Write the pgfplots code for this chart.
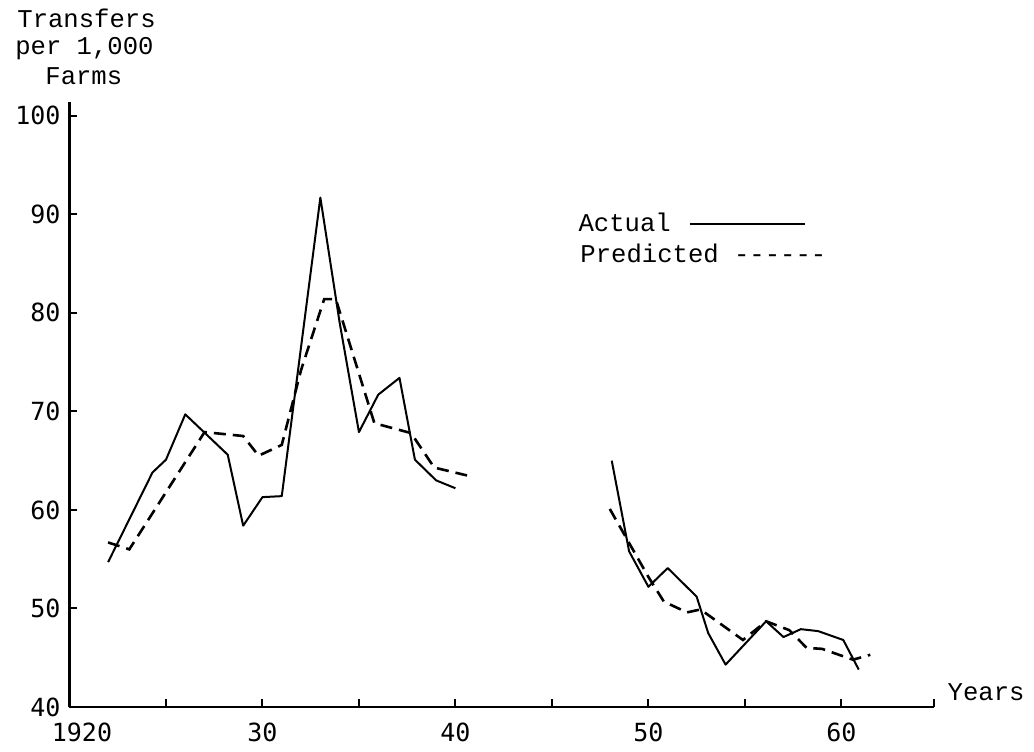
\documentclass[border=0pt]{standalone}
\usepackage{fontspec}
\setmainfont{Liberation Mono}
\setmonofont{Liberation Mono}
\newfontfamily\tickfont{DejaVu Sans Mono}
\usepackage{pgfplots}
\pgfplotsset{compat=1.18}

\begin{document}
\begin{tikzpicture}[x=1pt,y=1pt]
\useasboundingbox[fill=white] (-34.75,-22) rectangle (482.25,353.5);
\begin{axis}[
  at={(0,0)}, anchor=south west,
  scale only axis, width=432.25pt, height=302.5pt,
  xmin=1920, xmax=1964.8, ymin=40, ymax=101.4,
  axis lines=left,
  axis line style={-, line width=1.1pt, black},
  every outer x axis line/.append style={-},
  every outer y axis line/.append style={-},
  xtick={1920,1930,1940,1950,1960},
  xticklabels={\hspace*{12.5pt}1920,30,40,50,60},
  minor xtick={1925,1935,1945,1955,1964.8},
  ytick={40,50,60,70,80,90,100},
  tick align=inside,
  major tick length=4pt, minor tick length=4pt,
  tick style={line width=1pt, black},
  /pgf/number format/assume math mode=true,
  ticklabel style={font=\tickfont\fontsize{12.5}{14}\selectfont},
  xticklabel style={yshift=-4.5pt},
  yticklabel style={xshift=-1pt},
  clip=false,
]
% Actual, 1922-1940
\addplot[black, line width=1pt, line join=round] coordinates {
 (1922.0,54.7) (1924.3,63.8) (1925.0,65.1) (1926.0,69.7) (1928.2,65.6)
 (1929.0,58.4) (1930.0,61.3) (1931.0,61.4) (1933.0,91.7) (1934.0,79.0)
 (1935.0,67.9) (1936.0,71.7) (1937.1,73.4) (1937.9,65.1) (1939.0,63.0)
 (1940.0,62.2)
};
% Predicted, 1922-1941
\addplot[black, line width=1.3pt, dash pattern=on 6pt off 3.5pt] coordinates {
 (1922.0,56.7) (1923.1,56.0) (1927.0,67.9) (1929.0,67.5) (1929.8,65.5)
 (1931.0,66.6) (1932.0,74.2) (1933.2,81.4) (1933.8,81.4) (1935.8,68.8)
 (1937.7,67.8) (1938.9,64.3) (1940.6,63.5)
};
% Actual, 1948-1961
\addplot[black, line width=1pt, line join=round] coordinates {
 (1948.1,65.0) (1949.0,55.8) (1950.0,52.2) (1951.0,54.1) (1952.5,51.2)
 (1953.1,47.5) (1954.0,44.3) (1956.1,48.7) (1957.0,47.1) (1957.9,47.9)
 (1958.8,47.7) (1960.1,46.8) (1960.9,43.8)
};
% Predicted, 1948-1962
\addplot[black, line width=1.3pt, dash pattern=on 6pt off 3.5pt] coordinates {
 (1948.0,60.1) (1950.0,53.2) (1950.8,50.7) (1952.0,49.6) (1952.7,49.9)
 (1954.9,46.8) (1956.1,48.7) (1957.3,47.8) (1958.2,46.0) (1959.0,45.9)
 (1960.6,44.8) (1961.5,45.3)
};
% axis titles
\node[anchor=base west, inner sep=0, font=\ttfamily\fontsize{12.8}{15}\selectfont] at (axis cs:1917.28,108.93) {Transfers};
\node[anchor=base west, inner sep=0, font=\ttfamily\fontsize{12.8}{15}\selectfont] at (axis cs:1917.17,106.19) {per 1,000};
\node[anchor=base west, inner sep=0, font=\ttfamily\fontsize{12.8}{15}\selectfont] at (axis cs:1918.73,103.15) {Farms};
\node[anchor=base west, inner sep=0, font=\ttfamily\fontsize{12.8}{15}\selectfont] at (axis cs:1965.49,40.61) {Years};
% legend
\node[anchor=base west, inner sep=0, font=\ttfamily\fontsize{12.8}{15}\selectfont] at (axis cs:1946.36,88.25) {Actual\hspace{9.5pt}\rule[3.3pt]{57.5pt}{0.8pt}};
\node[anchor=base west, inner sep=0, font=\ttfamily\fontsize{12.8}{15}\selectfont] at (axis cs:1946.46,85.1) {Predicted ------};
\end{axis}
\end{tikzpicture}
\end{document}
